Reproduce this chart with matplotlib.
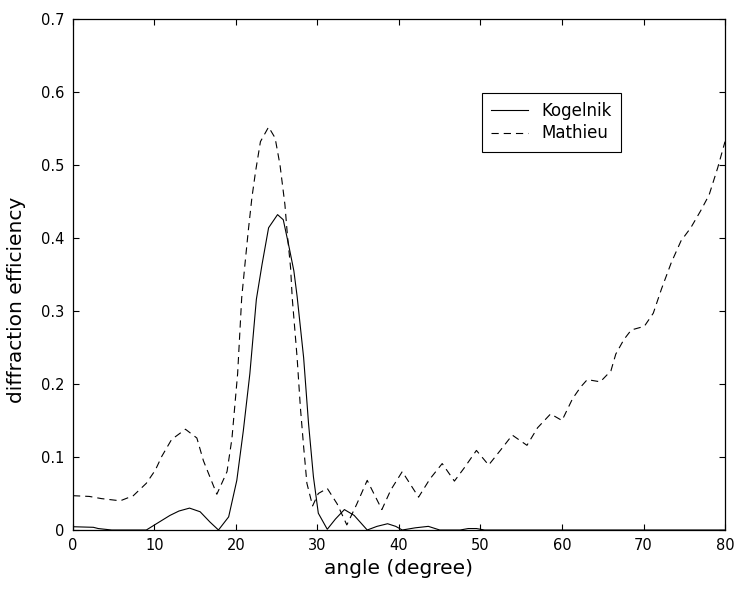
import matplotlib
matplotlib.use("Agg")
import matplotlib.pyplot as plt

# Kogelnik (solid)
kog_angle = [0, 2.5, 3.1, 4.75, 9.0, 10.3, 11.9, 13.0, 14.3, 15.6, 16.8, 17.85,
             19.1, 20.1, 20.9, 21.7, 22.5, 23.2, 24.0, 25.1, 25.8, 26.45, 27.1,
             27.5, 28.3, 28.9, 29.5, 30.1, 31.2, 32.2, 33.3, 34.5, 36.1, 37.3,
             38.6, 39.6, 40.4, 42.0, 43.6, 45.0, 47.5, 48.5, 49.5, 50.5, 80.0]
kog_eff = [0.0045, 0.0037, 0.002, 0.0, 0.0, 0.009, 0.020, 0.026, 0.030, 0.025,
           0.011, 0.0, 0.018, 0.068, 0.136, 0.214, 0.316, 0.364, 0.414, 0.432,
           0.425, 0.391, 0.355, 0.320, 0.236, 0.146, 0.073, 0.023, 0.001, 0.015,
           0.028, 0.020, 0.0, 0.005, 0.0086, 0.005, 0.0, 0.003, 0.005, 0.0, 0.0,
           0.002, 0.002, 0.0, 0.0]

# Mathieu (dashed)
mat_angle = [0, 2.0, 3.5, 5.8, 7.4, 9.0, 10.1, 10.9, 12.1, 13.8, 15.2, 16.0,
             17.65, 18.5, 18.9, 19.5, 20.2, 20.7, 21.1, 21.5, 21.95, 22.4, 23.0,
             24.0, 24.8, 25.4, 26.0, 26.3, 26.7, 26.9, 27.5, 27.9, 28.3, 28.7,
             29.4, 30.1, 31.2, 32.4, 33.6, 34.8, 36.1, 37.9, 39.0, 40.4, 42.4,
             43.8, 45.3, 46.8, 48.0, 49.5, 51.0, 52.5, 53.9, 55.7, 57.0, 58.6,
             60.0, 61.3, 62.3, 63.1, 64.7, 66.0, 66.6, 67.6, 68.5, 70.1, 71.2,
             72.2, 73.4, 74.6, 75.8, 77.0, 78.05, 79.1, 80.0]
mat_eff = [0.047, 0.046, 0.043, 0.040, 0.047, 0.064, 0.082, 0.101, 0.124, 0.138,
           0.126, 0.095, 0.049, 0.070, 0.080, 0.125, 0.214, 0.318, 0.364, 0.409,
           0.455, 0.491, 0.532, 0.552, 0.537, 0.500, 0.446, 0.405, 0.359, 0.318,
           0.236, 0.168, 0.114, 0.064, 0.033, 0.050, 0.057, 0.036, 0.007, 0.035,
           0.068, 0.028, 0.055, 0.080, 0.045, 0.070, 0.091, 0.067, 0.085, 0.109,
           0.089, 0.110, 0.130, 0.116, 0.140, 0.159, 0.150, 0.180, 0.196, 0.206,
           0.203, 0.218, 0.241, 0.261, 0.274, 0.279, 0.297, 0.330, 0.366, 0.396,
           0.414, 0.437, 0.459, 0.496, 0.532]

x_ticks = [0, 10, 20, 30, 40, 50, 60, 70, 80]
y_ticks = [0, 0.1, 0.2, 0.3, 0.4, 0.5, 0.6, 0.7]
y_tick_labels = ["0", "0.1", "0.2", "0.3", "0.4", "0.5", "0.6", "0.7"]


def main() -> None:
    plt.rcParams["font.family"] = "DejaVu Sans"
    fig = plt.figure(figsize=(7.35, 5.91), dpi=100)
    ax = fig.add_axes([0.0993, 0.1032, 0.8871, 0.8647])

    ax.plot(kog_angle, kog_eff, color="black", linewidth=0.8, label="Kogelnik")
    ax.plot(mat_angle, mat_eff, color="black", linewidth=0.8,
            dashes=(6.5, 4.5), label="Mathieu")

    ax.set_xlim(0, 80)
    ax.set_ylim(0, 0.7)
    ax.set_xticks(x_ticks)
    ax.set_yticks(y_ticks)
    ax.set_yticklabels(y_tick_labels)
    ax.tick_params(direction="in", top=True, right=True, length=4,
                   width=0.8, labelsize=10.5, pad=6)
    for sp in ax.spines.values():
        sp.set_linewidth(0.9)

    ax.set_xlabel("angle (degree)", fontsize=14.5, labelpad=4)
    ax.set_ylabel("diffraction efficiency", fontsize=14.5)
    ax.yaxis.set_label_coords(-0.072, 0.45)

    leg = ax.legend(loc="upper left", bbox_to_anchor=(0.627, 0.855),
                    fontsize=12, fancybox=False, edgecolor="black",
                    framealpha=1, handlelength=2.2, borderpad=0.55,
                    labelspacing=0.25, handletextpad=0.8, borderaxespad=0)
    leg.get_frame().set_linewidth(0.8)

    fig.savefig("out.png", dpi=100)
    plt.close(fig)


if __name__ == "__main__":
    main()
